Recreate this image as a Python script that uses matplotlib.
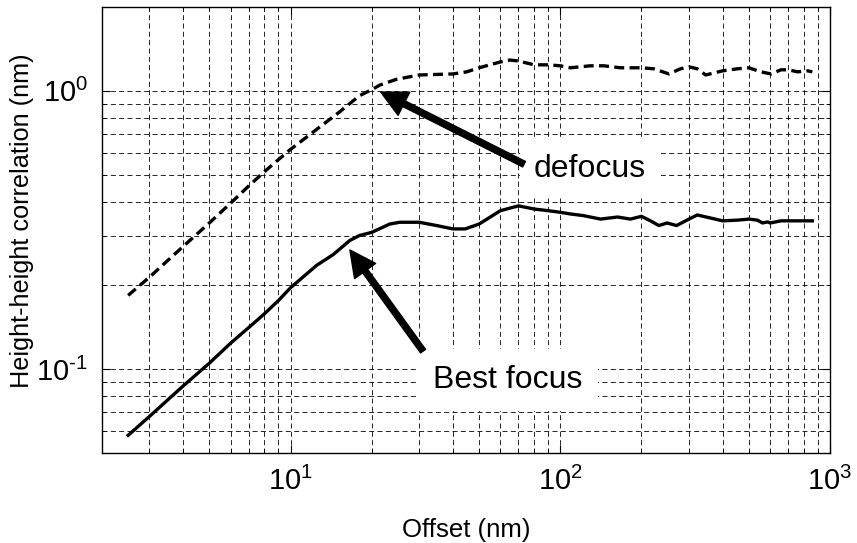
import matplotlib
matplotlib.use('Agg')
import matplotlib.pyplot as plt
from matplotlib.ticker import NullFormatter, FuncFormatter
import numpy as np

plt.rcParams['font.family'] = 'Liberation Sans'
plt.rcParams['mathtext.fontset'] = 'custom'
plt.rcParams['mathtext.rm'] = 'Liberation Sans'
plt.rcParams['mathtext.it'] = 'Liberation Sans:italic'

# defocus curve (dashed)
x_defocus = [2.5, 3, 4, 5, 6, 7, 8, 9, 10, 15.2, 18, 20, 21.5, 24.7, 30, 40, 45, 50,
             60, 65, 70, 80, 90, 100, 109, 119, 129, 145, 167, 200, 222, 253, 279,
             300, 322, 346, 372, 400, 454, 500, 555, 604, 658, 700, 759, 826, 860]
y_defocus = [0.184, 0.214, 0.276, 0.335, 0.395, 0.455, 0.512, 0.565, 0.616, 0.84, 0.96,
             1.01, 1.05, 1.10, 1.14, 1.15, 1.17, 1.21, 1.27, 1.29, 1.28, 1.24, 1.24,
             1.23, 1.21, 1.22, 1.23, 1.23, 1.21, 1.21, 1.20, 1.15, 1.20, 1.22, 1.20,
             1.14, 1.16, 1.18, 1.20, 1.21, 1.17, 1.15, 1.19, 1.19, 1.17, 1.18, 1.17]

# best focus curve (solid)
x_best = [2.5, 3, 4, 5, 6, 7, 8, 9, 10, 12.5, 14.4, 16.6, 18, 20, 23.3, 25.4, 30,
          34.8, 40, 44.4, 50, 60, 70, 80, 90, 100, 109, 122, 141, 163, 182, 200,
          216, 232, 249, 270, 300, 322, 361, 400, 454, 500, 538, 562, 587, 600,
          658, 800, 860]
y_best = [0.0578, 0.0676, 0.087, 0.105, 0.124, 0.141, 0.158, 0.176, 0.196,
          0.236, 0.258, 0.29, 0.302, 0.31, 0.332, 0.337, 0.337, 0.328, 0.319, 0.319,
          0.332, 0.371, 0.386, 0.376, 0.371, 0.366, 0.361, 0.356, 0.346, 0.352,
          0.346, 0.354, 0.341, 0.328, 0.335, 0.328, 0.346, 0.358, 0.349, 0.341,
          0.343, 0.346, 0.343, 0.335, 0.338, 0.335, 0.341, 0.341, 0.341]


def pow10(v, pos):
    e = int(round(np.log10(v)))
    s = r'\text{-}%d' % (-e) if e < 0 else '%d' % e
    return r'$\mathdefault{10^{%s}}$' % s


fig = plt.figure(figsize=(8.57, 5.43), dpi=100)
ax = fig.add_axes([0.119, 0.166, 0.8495, 0.821])

ax.plot(x_defocus, y_defocus, color='black', lw=2.4, ls=(0, (3, 1.6)))
ax.plot(x_best, y_best, color='black', lw=2.4)

ax.set_xscale('log')
ax.set_yscale('log')
ax.set_xlim(2, 1000)
ax.set_ylim(0.05, 2)

ax.grid(True, which='both', color='black', lw=0.6, ls=(0, (6, 4)))
ax.xaxis.set_major_formatter(FuncFormatter(pow10))
ax.yaxis.set_major_formatter(FuncFormatter(pow10))
ax.xaxis.set_minor_formatter(NullFormatter())
ax.yaxis.set_minor_formatter(NullFormatter())
ax.tick_params(which='both', direction='in', top=True, right=True, labelsize=21)
ax.tick_params(axis='x', which='major', length=6, pad=10)
ax.tick_params(axis='y', which='major', length=6, pad=10)
ax.tick_params(which='minor', length=3)
for s in ax.spines.values():
    s.set_linewidth(1.0)

ax.set_xlabel('Offset (nm)', fontsize=18.5)
ax.set_ylabel('Height-height correlation (nm)', fontsize=18.2)
ax.xaxis.set_label_coords(0.5, -0.145)
ax.yaxis.set_label_coords(-0.093, 0.52)

arrow = dict(arrowstyle='simple,head_length=0.85,head_width=0.85,tail_width=0.2',
             color='black', shrinkA=0, shrinkB=0, mutation_scale=22)

ax.text(80, 0.49, 'defocus', fontsize=23, ha='left', va='baseline', zorder=4,
        bbox=dict(facecolor='white', edgecolor='none', boxstyle='square,pad=0.45'))
ax.annotate('', xy=(21.6, 0.99), xytext=(73.4, 0.545), arrowprops=arrow, zorder=5)

ax.text(33.7, 0.0858, 'Best focus', fontsize=23, ha='left', va='baseline', zorder=4,
        bbox=dict(facecolor='white', edgecolor='none', boxstyle='square,pad=0.5'))
ax.annotate('', xy=(16.6, 0.268), xytext=(31, 0.116), arrowprops=arrow, zorder=5)

fig.savefig('out.png', dpi=100)
